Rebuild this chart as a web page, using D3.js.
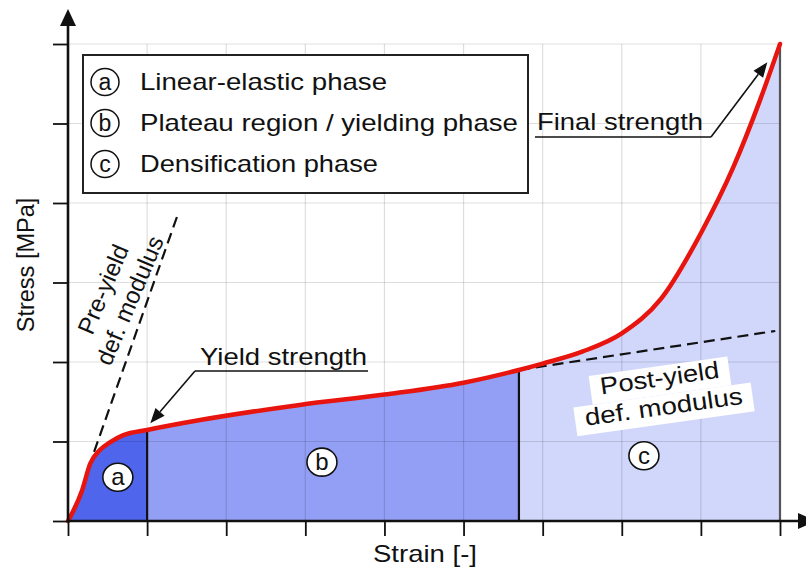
<!DOCTYPE html>
<html>
<head>
<meta charset="utf-8">
<script src="https://cdn.jsdelivr.net/npm/d3@7"></script>
<style>
  body { margin: 0; background: #fff; }
  text { font-family: "Liberation Sans", Arial, sans-serif; fill: #111; }
</style>
</head>
<body>
<script>
// ---------- data ----------
const xTicks = [0, 1, 2, 3, 4, 5, 6, 7, 8, 9];
const yTicks = [0, 1, 2, 3, 4, 5, 6];
const strain = [0, 0.18, 0.28, 0.40, 0.53, 0.70, 1.0, 1.67, 2.93, 4.0, 5.0, 5.7, 6.0, 6.5, 7.0, 7.5, 8.0, 8.41, 8.75, 9.0];
const stress = [0, 0.39, 0.72, 0.89, 0.99, 1.08, 1.145, 1.27, 1.46, 1.59, 1.74, 1.90, 1.98, 2.13, 2.36, 2.80, 3.62, 4.45, 5.30, 6.0];
const phaseBounds = [0, 1.0, 5.7, 9.0];
const phaseLetters = ["a", "b", "c"];
const phaseNames = ["Linear-elastic phase", "Plateau region / yielding phase", "Densification phase"];
const phaseMarkerX = [0.63, 3.21, 7.28];
const phaseMarkerY = [0.55, 0.74, 0.82];
const preYieldLine = [[0.33, 0.87], [1.40, 3.89]];
const postYieldLine = [[5.70, 1.90], [8.94, 2.39]];
const yieldArrowTip = [1.04, 1.23];
const finalArrowTip = [8.84, 5.77];

// ---------- setup ----------
const W = 806, H = 571;
const svg = d3.select("body").append("svg").attr("width", W).attr("height", H);
const x = d3.scaleLinear().domain([0, 9]).range([68, 780]);
const y = d3.scaleLinear().domain([0, 6]).range([521, 44]);
const pts = strain.map((s, i) => [s, stress[i]]);
const phaseColors = ["#4f65ec", "#939ef5", "#d1d7fb"];

const defs = svg.append("defs");
phaseColors.forEach((c, i) => {
  defs.append("clipPath").attr("id", "clip" + i)
    .append("rect")
    .attr("x", x(phaseBounds[i])).attr("y", 0)
    .attr("width", x(phaseBounds[i + 1]) - x(phaseBounds[i])).attr("height", H);
});

// fills
const area = d3.area().x(d => x(d[0])).y0(y(0)).y1(d => y(d[1])).curve(d3.curveMonotoneX);
phaseColors.forEach((c, i) => {
  svg.append("path").datum(pts).attr("d", area).attr("fill", c)
    .attr("clip-path", `url(#clip${i})`);
});

// grid
const grid = svg.append("g").attr("stroke", "#000").attr("stroke-opacity", 0.13).attr("stroke-width", 1.2);
grid.selectAll("line.v").data(xTicks).join("line").attr("class", "v")
  .attr("x1", d => x(d)).attr("x2", d => x(d)).attr("y1", y(0)).attr("y2", y(6));
grid.selectAll("line.h").data(yTicks).join("line").attr("class", "h")
  .attr("x1", x(0)).attr("x2", x(9)).attr("y1", d => y(d)).attr("y2", d => y(d));

// separators
phaseBounds.slice(1).forEach((b, i) => {
  const idx = strain.indexOf(b);
  svg.append("line").attr("x1", x(b)).attr("x2", x(b)).attr("y1", y(0)).attr("y2", y(stress[idx]))
    .attr("stroke", i === 2 ? "#555" : "#111").attr("stroke-width", 2.2);
});

// dashed modulus lines
const lineGen = d3.line().x(d => x(d[0])).y(d => y(d[1]));
[preYieldLine, postYieldLine].forEach(l => {
  svg.append("path").datum(l).attr("d", lineGen).attr("fill", "none")
    .attr("stroke", "#111").attr("stroke-width", 2.2).attr("stroke-dasharray", "11,6");
});

// curve
const curve = d3.line().x(d => x(d[0])).y(d => y(d[1])).curve(d3.curveMonotoneX);
svg.append("path").datum(pts).attr("d", curve).attr("fill", "none")
  .attr("stroke", "#e8140e").attr("stroke-width", 4.5).attr("stroke-linecap", "round");

// axes
const xAxis = d3.axisBottom(x).tickValues(xTicks).tickFormat("").tickSize(15).tickSizeOuter(0);
const yAxis = d3.axisLeft(y).tickValues(yTicks).tickFormat("").tickSize(15).tickSizeOuter(0);
const gx = svg.append("g").attr("transform", `translate(0,${y(0)})`).call(xAxis);
const gy = svg.append("g").attr("transform", `translate(${x(0)},0)`).call(yAxis);
[gx, gy].forEach(g => {
  g.select(".domain").remove();
  g.selectAll(".tick line").attr("stroke", "#111").attr("stroke-width", 1.8);
});
svg.append("line").attr("x1", x(0)).attr("x2", 800).attr("y1", y(0)).attr("y2", y(0))
  .attr("stroke", "#111").attr("stroke-width", 2.6);
svg.append("line").attr("x1", x(0)).attr("x2", x(0)).attr("y1", y(0)).attr("y2", 22)
  .attr("stroke", "#111").attr("stroke-width", 2.6);
svg.append("polygon").attr("points", `${x(0)},9 ${x(0) - 8},26 ${x(0) + 8},26`).attr("fill", "#111");
svg.append("polygon").attr("points", `816,${y(0)} 798,${y(0) - 8} 798,${y(0) + 8}`).attr("fill", "#111");

// phase markers
phaseLetters.forEach((L, i) => {
  const cx = x(phaseMarkerX[i]), cy = y(phaseMarkerY[i]);
  svg.append("ellipse").attr("cx", cx).attr("cy", cy).attr("rx", 15).attr("ry", 14)
    .attr("fill", "#fff").attr("stroke", "#111").attr("stroke-width", 1.6);
  svg.append("text").attr("x", cx).attr("y", cy + 8).attr("text-anchor", "middle")
    .attr("font-size", 24).text(L);
});

// legend
svg.append("rect").attr("x", 83).attr("y", 55).attr("width", 445).attr("height", 138)
  .attr("fill", "#fff").attr("stroke", "#222").attr("stroke-width", 2);
const legendLens = [247, 378, 238];
phaseNames.forEach((n, i) => {
  const cy = 82 + i * 41;
  svg.append("ellipse").attr("cx", 105).attr("cy", cy).attr("rx", 14).attr("ry", 13.5)
    .attr("fill", "#fff").attr("stroke", "#111").attr("stroke-width", 1.5);
  svg.append("text").attr("x", 105).attr("y", cy + 8).attr("text-anchor", "middle")
    .attr("font-size", 23).text(phaseLetters[i]);
  svg.append("text").attr("x", 140).attr("y", cy + 8).attr("font-size", 24)
    .attr("textLength", legendLens[i]).attr("lengthAdjust", "spacingAndGlyphs").text(n);
});

// arrow helper
function arrow(x0, y0, x1, y1) {
  const dx = x1 - x0, dy = y1 - y0, len = Math.hypot(dx, dy);
  const ux = dx / len, uy = dy / len, hl = 15, hw = 6;
  const bx = x1 - ux * hl, by = y1 - uy * hl;
  svg.append("line").attr("x1", x0).attr("y1", y0).attr("x2", bx).attr("y2", by)
    .attr("stroke", "#111").attr("stroke-width", 1.6);
  svg.append("polygon").attr("points",
    `${x1},${y1} ${bx - uy * hw},${by + ux * hw} ${bx + uy * hw},${by - ux * hw}`).attr("fill", "#111");
}

// yield strength annotation
svg.append("text").attr("x", 200).attr("y", 365).attr("font-size", 24)
  .attr("textLength", 167).attr("lengthAdjust", "spacingAndGlyphs").text("Yield strength");
svg.append("line").attr("x1", 195).attr("x2", 368).attr("y1", 371).attr("y2", 371)
  .attr("stroke", "#111").attr("stroke-width", 1.6);
arrow(195, 371, x(yieldArrowTip[0]), y(yieldArrowTip[1]));

// final strength annotation
svg.append("text").attr("x", 537).attr("y", 130).attr("font-size", 24)
  .attr("textLength", 166).attr("lengthAdjust", "spacingAndGlyphs").text("Final strength");
svg.append("line").attr("x1", 535).attr("x2", 711).attr("y1", 137).attr("y2", 137)
  .attr("stroke", "#111").attr("stroke-width", 1.6);
arrow(711, 137, x(finalArrowTip[0]), y(finalArrowTip[1]));

// pre-yield label
const pre = svg.append("g").attr("transform", "translate(119,296) rotate(-67)");
pre.append("text").attr("x", 0).attr("y", -9).attr("text-anchor", "middle").attr("font-size", 24).text("Pre-yield");
pre.append("text").attr("x", 0).attr("y", 20).attr("text-anchor", "middle").attr("font-size", 24).text("def. modulus");

// post-yield label
const post = svg.append("g").attr("transform", "translate(662,395) rotate(-8)");
const postLines = [["Post-yield", 120, -9], ["def. modulus", 159, 20]];
postLines.forEach(([t, len, by]) => {
  post.append("rect").attr("x", -len / 2 - 10).attr("y", by - 20).attr("width", len + 20).attr("height", 29)
    .attr("fill", "#fff");
});
postLines.forEach(([t, len, by]) => {
  post.append("text").attr("x", 0).attr("y", by).attr("text-anchor", "middle").attr("font-size", 24)
    .attr("textLength", len).attr("lengthAdjust", "spacingAndGlyphs").text(t);
});

// axis titles
svg.append("text").attr("transform", "translate(34,265) rotate(-90)").attr("text-anchor", "middle")
  .attr("font-size", 23.5).text("Stress [MPa]");
svg.append("text").attr("x", 425).attr("y", 562).attr("text-anchor", "middle").attr("font-size", 24)
  .attr("textLength", 104).attr("lengthAdjust", "spacingAndGlyphs").text("Strain [-]");
</script>
</body>
</html>
